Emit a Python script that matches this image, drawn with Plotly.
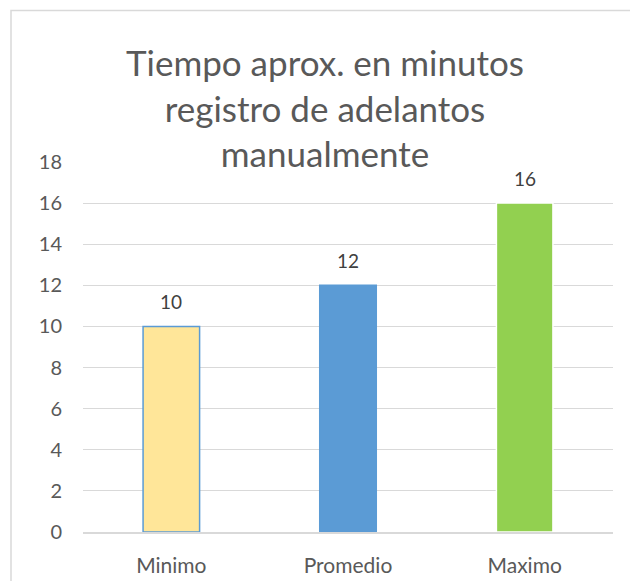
import plotly.graph_objects as go

categories = ["Minimo", "Promedio", "Maximo"]
minutes = [10, 12, 16]
bar_colors = ["#FFE699", "#5B9BD5", "#92D050"]
outline_colors = ["#5B9BD5", "#5B9BD5", "#FFFFFF"]
y_ticks = [0, 2, 4, 6, 8, 10, 12, 14, 16, 18]

title_text = "Tiempo aprox. en minutos<br>registro de adelantos<br>manualmente"

W, H = 630, 581
ML, MR, MT, MB = 83, 17, 162, 49
pw, ph = W - ML - MR, H - MT - MB

fig = go.Figure()
fig.add_trace(go.Bar(
    x=categories,
    y=minutes,
    width=0.32,
    marker=dict(color=bar_colors, line=dict(color=outline_colors, width=1.5)),
    hoverinfo="x+y",
))

# value labels above each bar
for c, v in zip(categories, minutes):
    fig.add_annotation(
        x=c, y=v, text=str(v), showarrow=False,
        yanchor="bottom", yshift=11,
        font=dict(family="Lato", size=19, color="#404040"),
    )

# outer chart frame
def px_x(p):
    return (p - ML) / pw

def px_y(p):
    return (H - MB - p) / ph

fig.add_shape(
    type="rect", xref="paper", yref="paper",
    x0=px_x(11), x1=px_x(W + 20), y0=px_y(H + 20), y1=px_y(10.5),
    line=dict(color="#D9D9D9", width=1.5), fillcolor="rgba(0,0,0,0)",
    layer="below",
)

fig.update_layout(
    width=W, height=H,
    margin=dict(l=ML, r=MR, t=MT, b=MB, autoexpand=False),
    paper_bgcolor="white", plot_bgcolor="white",
    showlegend=False,
    title=dict(
        text=title_text, x=325 / W, xanchor="center",
        y=1 - 76 / H, yanchor="top",
        font=dict(family="Lato", size=35, color="#595959"),
    ),
    font=dict(family="Lato", color="#595959"),
    xaxis=dict(
        showgrid=False, showline=True, linecolor="#D9D9D9", linewidth=1.5,
        ticks="", tickfont=dict(size=21, color="#595959"),
        ticklabelstandoff=14, automargin=False,
    ),
    yaxis=dict(
        range=[0, 18], tickvals=y_ticks, showgrid=True, gridcolor="#D9D9D9",
        gridwidth=1, zeroline=False, showline=False, ticks="",
        tickfont=dict(size=20, color="#595959"), ticklabelstandoff=20,
        automargin=False,
    ),
)

fig.write_html("out.html")
